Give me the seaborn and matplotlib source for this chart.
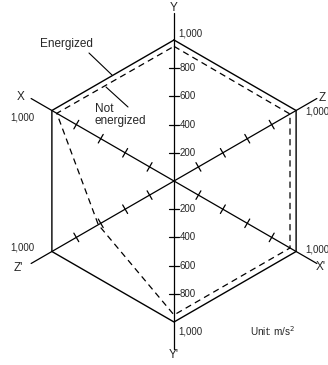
import numpy as np
import pandas as pd
import matplotlib
matplotlib.use("Agg")
import matplotlib.pyplot as plt
import seaborn as sns

sns.set_theme(style="white")
plt.rcParams['font.family'] = ['Liberation Sans', 'DejaVu Sans']

# ---- data ----
axes_names = ["Y", "Z", "X'", "Y'", "Z'", "X"]
axis_angles_deg = [90, 30, -30, -90, -150, 150]
energized = [1000, 1000, 1000, 1000, 1000, 1000]
not_energized = [955, 950, 950, 950, 620, 960]
tick_values = [200, 400, 600, 800]
tick_labels = ["200", "400", "600", "800"]
max_label = "1,000"
max_value = 1000

W, H = 328, 365
CX, CY = 174, 181
SCALE = 1000 / 141.0


def p2d(px, py):
    return ((px - CX) * SCALE, (CY - py) * SCALE)


fig = plt.figure(figsize=(W / 100, H / 100), dpi=100)
ax = fig.add_axes([0, 0, 1, 1])
ax.set_xlim(-CX * SCALE, (W - CX) * SCALE)
ax.set_ylim(-(H - CY) * SCALE, CY * SCALE)
ax.set_aspect("equal")
ax.axis("off")

ang = np.deg2rad(axis_angles_deg)


def poly_df(vals, name):
    v = list(vals) + [vals[0]]
    a = list(ang) + [ang[0]]
    return pd.DataFrame({
        "x": [r * np.cos(t) for r, t in zip(v, a)],
        "y": [r * np.sin(t) for r, t in zip(v, a)],
        "order": range(len(v)),
        "series": name,
    })


df_e = poly_df(energized, "Energized")
df_n = poly_df(not_energized, "Not energized")

# axis lines
for t, nm in zip(ang, axes_names):
    ext = 1190 if nm in ("Y", "Y'") else 1170
    d = pd.DataFrame({"x": [0, ext * np.cos(t)], "y": [0, ext * np.sin(t)]})
    sns.lineplot(data=d, x="x", y="y", ax=ax, color="black", lw=0.9,
                 sort=False, estimator=None)
    # ticks
    for tv in tick_values:
        px, py = tv * np.cos(t), tv * np.sin(t)
        nx, ny = -np.sin(t), np.cos(t)
        h = 35
        dt = pd.DataFrame({"x": [px - h * nx, px + h * nx],
                           "y": [py - h * ny, py + h * ny]})
        sns.lineplot(data=dt, x="x", y="y", ax=ax, color="black", lw=0.9,
                     sort=False, estimator=None)

sns.lineplot(data=df_e, x="x", y="y", ax=ax, color="black", lw=1.0,
             sort=False, estimator=None)
sns.lineplot(data=df_n, x="x", y="y", ax=ax, color="black", lw=0.9,
             sort=False, estimator=None, linestyle=(0, (5, 3.5)))

fs = 7.0
# Y tick labels
for tv, tl in zip(tick_values, tick_labels):
    ax.text(6 * SCALE, tv, tl, fontsize=fs, ha="left", va="center")
    ax.text(6 * SCALE, -tv, tl, fontsize=fs, ha="left", va="center")

# 1,000 labels
ax.text(*p2d(178, 33), max_label, fontsize=fs, ha="left", va="center")
ax.text(*p2d(178, 332), max_label, fontsize=fs, ha="left", va="center")
ax.text(*p2d(305, 112), max_label, fontsize=fs, ha="left", va="center")
ax.text(*p2d(305, 249), max_label, fontsize=fs, ha="left", va="center")
ax.text(*p2d(34, 118), max_label, fontsize=fs, ha="right", va="center")
ax.text(*p2d(34, 248), max_label, fontsize=fs, ha="right", va="center")

# axis name labels
fl = 8.5
ax.text(*p2d(174, 8), "Y", fontsize=fl, ha="center", va="center")
ax.text(*p2d(174, 355), "Y'", fontsize=fl, ha="center", va="center")
ax.text(*p2d(21, 97), "X", fontsize=fl, ha="center", va="center")
ax.text(*p2d(322, 98), "Z", fontsize=fl, ha="center", va="center")
ax.text(*p2d(321, 267), "X'", fontsize=fl, ha="center", va="center")
ax.text(*p2d(18, 268), "Z'", fontsize=fl, ha="center", va="center")

# annotations
ax.text(*p2d(66, 44), "Energized", fontsize=8.5, ha="center", va="center")
ax.plot(*zip(p2d(89, 53), p2d(112, 75)), color="black", lw=0.8)
ax.text(*p2d(95, 115), "Not\nenergized", fontsize=8.5, ha="left", va="center",
        linespacing=1.0)
ax.plot(*zip(p2d(128, 107), p2d(106, 87)), color="black", lw=0.8)

ax.text(*p2d(250, 331), "Unit: m/s$^2$", fontsize=7.2, ha="left", va="center")

fig.savefig("out.png", dpi=100)
